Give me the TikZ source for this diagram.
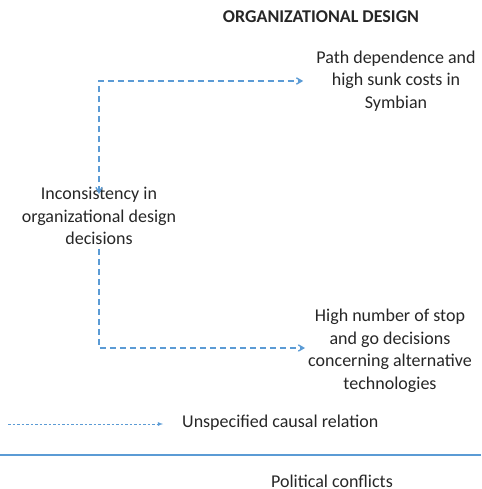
\documentclass[tikz,border=0pt]{standalone}
\usepackage{fontspec}
\setmainfont{Carlito}
\usepackage{tikz}
\usetikzlibrary{positioning}
\usetikzlibrary{arrows}
\usepackage{xcolor}
\definecolor{arrblue}{RGB}{91,155,213}
\definecolor{txtgray}{RGB}{38,38,38}

\begin{document}
\begin{tikzpicture}[x=1pt,y=-1pt,
    f/.style={->,line width=1.4pt,arrblue,dash pattern=on 6pt off 4pt,>=angle 60},%
    leg/.style={-latex,line width=0.8pt,arrblue,dash pattern=on 2.5pt off 2pt},%
    t/.style={align=center,text=txtgray,font=\fontsize{18}{22.5}\selectfont,inner sep=1pt}]
    \useasboundingbox (0,0) rectangle (481,489);
    \node[t,font=\fontsize{18}{22.5}\selectfont\bfseries] (title) at (321,17) {ORGANIZATIONAL DESIGN};
    \node[t] (path) at (396,81) {Path dependence and\\high sunk costs in\\Symbian};
    \node[t] (inc) at (99,216) {Inconsistency in\\organizational design\\decisions};
    \node[t] (high) at (390,351) {High number of stop\\and go decisions\\concerning alternative\\technologies};

    \draw[f,<->,shorten <=-8pt] (inc.north) |- ([xshift=-12pt]path.west);
    \draw[f,shorten <=3pt] (inc.south) |- ([xshift=-2pt,yshift=3pt]high.west);

    % legend
    \coordinate (l0) at (8,424);
    \coordinate (l1) at (163,424);
    \node[t,anchor=west] (legtxt) at (181,423) {Unspecified causal relation};
    \draw[leg] (l0) -- (l1);

    \coordinate (s0) at (0,455);
    \coordinate (s1) at (481,455);
    \draw[arrblue,line width=1.6pt] (s0) -- (s1);
    \node[t] (pol) at (332,481) {Political conflicts};
\end{tikzpicture}
\end{document}
